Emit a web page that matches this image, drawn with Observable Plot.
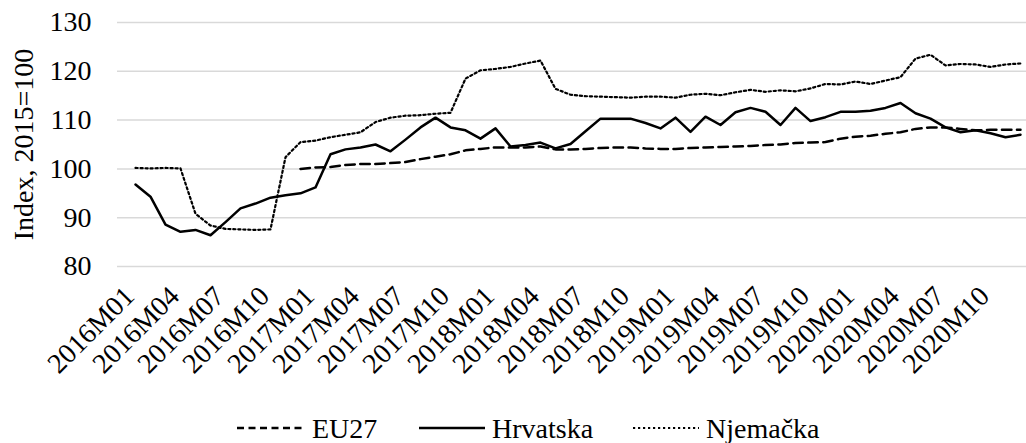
<!DOCTYPE html>
<html><head><meta charset="utf-8">
<script src="https://cdn.jsdelivr.net/npm/d3@7"></script>
<script src="https://cdn.jsdelivr.net/npm/@observablehq/plot@0.6"></script>
<style>
html,body{margin:0;padding:0;background:#fff;overflow:hidden;}
#wrap{width:1026px;height:443px;position:relative;overflow:hidden;color:#000;}
#chart svg{overflow:hidden;}
#chart svg text{font-family:'Liberation Serif' !important;}
.sw{position:absolute;top:26px;}
.lt{position:absolute;top:14.6px;font-size:28px;line-height:28px;white-space:nowrap;font-family:'Liberation Serif';}
#legend{position:absolute;left:0;top:400px;width:1026px;height:43px;}
</style>
</head><body>
<div id="wrap" style="font-family:'Liberation Serif'"><div id="chart"></div><div id="legend"></div></div>
<script>
const months = [
"2016M01","2016M02","2016M03","2016M04","2016M05","2016M06","2016M07","2016M08","2016M09","2016M10","2016M11","2016M12",
"2017M01","2017M02","2017M03","2017M04","2017M05","2017M06","2017M07","2017M08","2017M09","2017M10","2017M11","2017M12",
"2018M01","2018M02","2018M03","2018M04","2018M05","2018M06","2018M07","2018M08","2018M09","2018M10","2018M11","2018M12",
"2019M01","2019M02","2019M03","2019M04","2019M05","2019M06","2019M07","2019M08","2019M09","2019M10","2019M11","2019M12",
"2020M01","2020M02","2020M03","2020M04","2020M05","2020M06","2020M07","2020M08","2020M09","2020M10","2020M11","2020M12"];

const eu27 = [null,null,null,null,null,null,null,null,null,null,null,100.0,
100.3,100.4,100.8,101.0,101.0,101.2,101.4,102.0,102.5,103.0,103.8,104.1,
104.4,104.4,104.4,104.6,104.0,104.0,104.1,104.3,104.4,104.4,104.2,104.1,
104.1,104.3,104.4,104.5,104.6,104.7,104.9,105.0,105.3,105.4,105.5,106.2,
106.6,106.8,107.2,107.5,108.2,108.5,108.5,108.2,107.9,108.0,108.0,108.0];

const hrvatska = [96.8,94.3,88.6,87.1,87.5,86.4,89.1,91.9,92.9,94.1,94.6,95.0,
96.2,103.0,104.0,104.4,105.0,103.6,106.0,108.5,110.5,108.5,107.9,106.2,
108.3,104.6,104.9,105.4,104.2,105.1,107.7,110.3,110.3,110.3,109.4,108.3,
110.5,107.6,110.7,109.0,111.6,112.5,111.7,109.0,112.5,109.8,110.6,111.7,
111.7,111.9,112.5,113.5,111.4,110.3,108.5,107.5,107.9,107.3,106.5,107.0];

const njemacka = [100.2,100.1,100.2,100.1,90.8,88.4,87.7,87.6,87.5,87.6,102.4,105.5,
105.8,106.5,107.0,107.5,109.6,110.5,110.9,111.0,111.3,111.5,118.5,120.2,
120.5,120.9,121.6,122.2,116.4,115.2,114.9,114.8,114.7,114.6,114.8,114.8,
114.6,115.2,115.4,115.1,115.7,116.2,115.8,116.1,115.9,116.5,117.4,117.3,
117.9,117.4,118.1,118.8,122.6,123.4,121.2,121.5,121.4,120.9,121.4,121.6];

const seriesNames = ["EU27","Hrvatska","Njemačka"];
const yTicks = [80,90,100,110,120,130];
const xTickLabels = months.filter((m, i) => i % 3 === 0);

const rows = (vals, name) => months.map((m, i) => ({month: m, value: vals[i], series: name})).filter(d => d.value != null);
const dEU = rows(eu27, seriesNames[0]);
const dHR = rows(hrvatska, seriesNames[1]);
const dDE = rows(njemacka, seriesNames[2]);

const styles = {
  "EU27": {strokeWidth: 2.5, strokeDasharray: "9.5,5.5"},
  "Hrvatska": {strokeWidth: 2.5, strokeDasharray: null},
  "Njemačka": {strokeWidth: 2.2, strokeDasharray: "2.2,2.8"}
};

const chart = Plot.plot({
  width: 1026,
  height: 400,
  marginLeft: 117,
  marginRight: 0,
  marginTop: 22,
  marginBottom: 134,
  style: {fontFamily: "Liberation Serif", fontSize: "28px", color: "#000", background: "#fff"},
  x: {type: "point", domain: months, range: [124, 124 + 59 * 15.38]},
  y: {domain: [80, 130]},
  marks: [
    Plot.ruleY(yTicks, {stroke: "#d9d9d9", strokeWidth: 1.5}),
    Plot.axisY({ticks: yTicks, tickSize: 0, tickPadding: 26, label: "Index, 2015=100", labelAnchor: "center", labelOffset: 104, labelArrow: "none", fill: "#000"}),
    Plot.axisX({ticks: xTickLabels, tickSize: 0, tickPadding: 25, dx: -6, tickRotate: -45, label: null, fill: "#000"}),
    Plot.line(dEU, {x: "month", y: "value", stroke: "#000", strokeWidth: styles["EU27"].strokeWidth, strokeDasharray: styles["EU27"].strokeDasharray, strokeLinejoin: "round"}),
    Plot.line(dHR, {x: "month", y: "value", stroke: "#000", strokeWidth: styles["Hrvatska"].strokeWidth, strokeLinejoin: "round"}),
    Plot.line(dDE, {x: "month", y: "value", stroke: "#000", strokeWidth: styles["Njemačka"].strokeWidth, strokeDasharray: styles["Njemačka"].strokeDasharray})
  ]
});
chart.querySelectorAll("text").forEach(t => t.style.fontFamily = "Liberation Serif");
document.getElementById("chart").appendChild(chart);

// legend
const legendPos = [
  {sw: 237, tx: 312},
  {sw: 419, tx: 492},
  {sw: 633, tx: 706}
];
const leg = document.getElementById("legend");
seriesNames.forEach((name, i) => {
  const st = styles[name];
  const s = document.createElementNS("http://www.w3.org/2000/svg", "svg");
  s.setAttribute("class", "sw");
  s.setAttribute("width", 66);
  s.setAttribute("height", 4);
  s.style.left = legendPos[i].sw + "px";
  const l = document.createElementNS("http://www.w3.org/2000/svg", "line");
  l.setAttribute("x1", 0); l.setAttribute("x2", 66); l.setAttribute("y1", 2); l.setAttribute("y2", 2);
  l.setAttribute("stroke", "#000");
  l.setAttribute("stroke-width", st.strokeWidth);
  if (st.strokeDasharray) l.setAttribute("stroke-dasharray", name === "EU27" ? "7,4.5" : st.strokeDasharray);
  s.appendChild(l);
  leg.appendChild(s);
  const t = document.createElement("span");
  t.className = "lt";
  t.style.left = legendPos[i].tx + "px";
  t.textContent = name;
  leg.appendChild(t);
});
</script>
</body></html>
